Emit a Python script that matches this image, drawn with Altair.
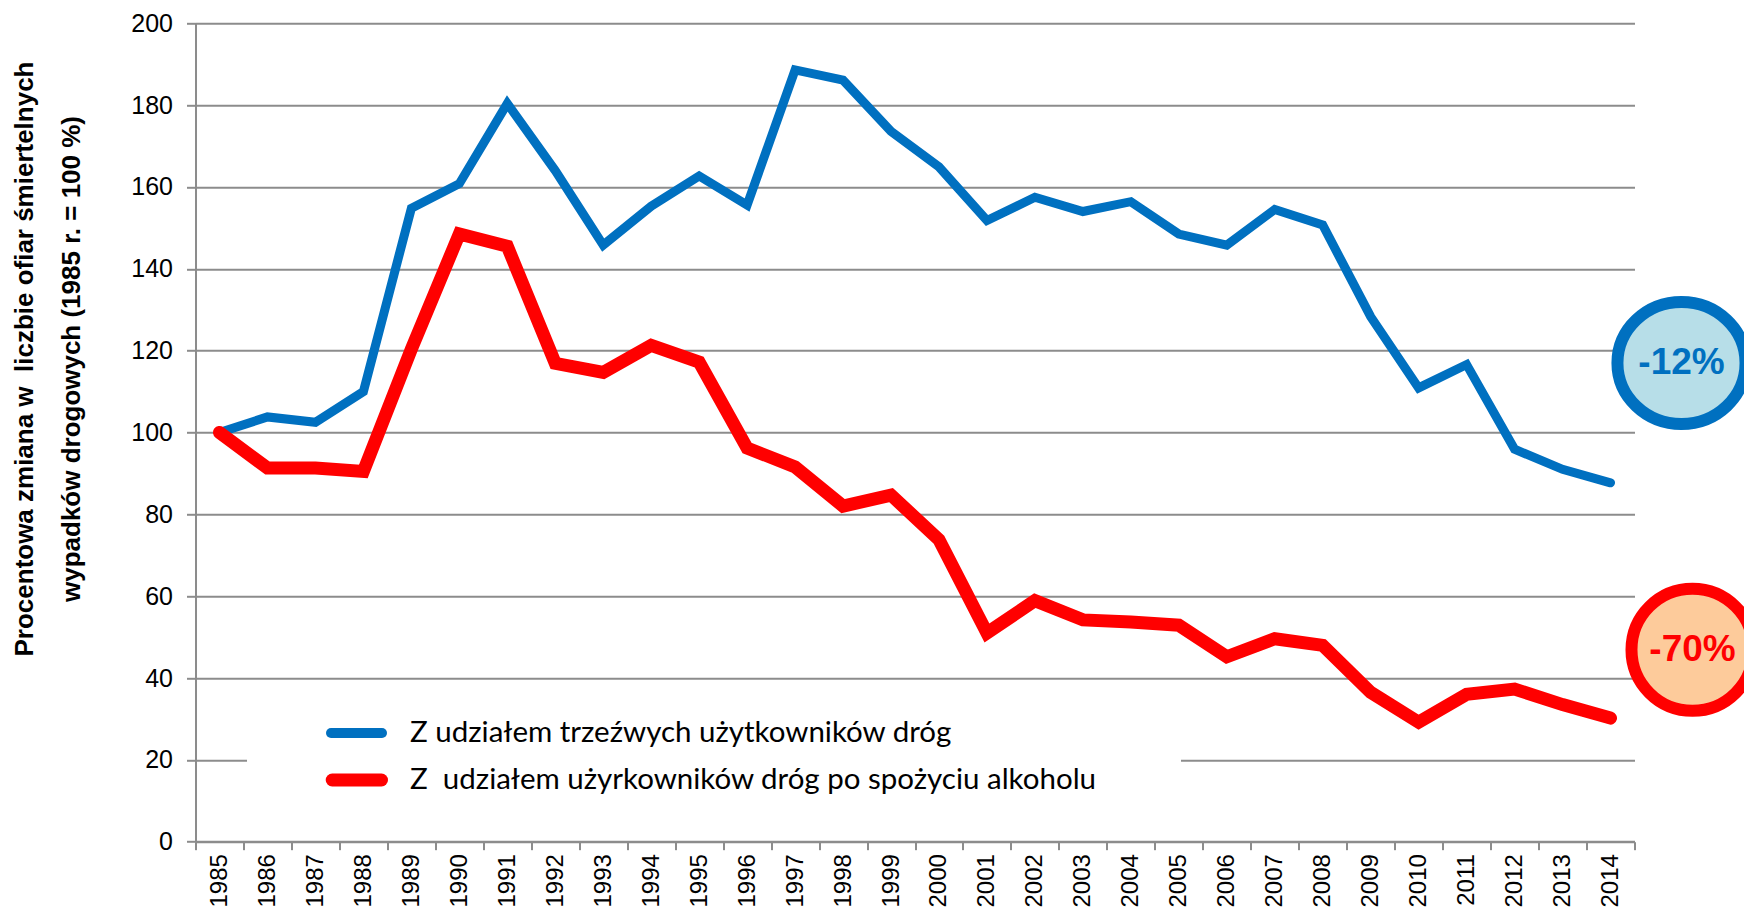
import altair as alt
import pandas as pd

years = list(range(1985, 2015))
sober = [100, 103.8, 102.5, 110, 154.8, 160.8, 180.4, 164, 145.8, 155.3,
         162.7, 155.6, 188.6, 186.1, 173.6, 164.9, 151.8, 157.5, 154, 156.4,
         148.5, 145.8, 154.5, 150.7, 128.3, 110.9, 116.6, 95.9, 91, 87.7]
alcohol = [100, 91.3, 91.3, 90.5, 120.4, 148.5, 145.5, 116.9, 114.7, 121.3,
           117.2, 96.2, 91.6, 82, 84.7, 73.8, 51, 58.9, 54.2, 53.7,
           52.9, 45.2, 49.6, 48, 36.5, 29.2, 36, 37.3, 33.5, 30.2]

s1 = "Z udziałem trzeźwych użytkowników dróg"
s2 = "Z\u00a0 udziałem użyrkowników dróg po spożyciu alkoholu"
series = [s1, s2]
colors = ["#0070C0", "#FF0000"]
widths = [9, 13]

ann_labels = ["-12%", "-70%"]
ann_y = [117, 46.9]
ann_fill = ["#B7DEE8", "#FDCB9B"]
ann_shape = ["M-1.05,0A1.05,1,0,1,0,1.05,0A1.05,1,0,1,0,-1.05,0Z", "circle"]

rows = []
for name, vals in zip(series, [sober, alcohol]):
    for y, v in zip(years, vals):
        rows.append({"year": str(y), "value": v, "series": name})
df = pd.DataFrame(rows)

W, H = 1439, 818.4
grey = "#8C8C8C"

x_enc = alt.X("year:O", bandPosition=0.5,
              scale=alt.Scale(type="band", paddingInner=0, paddingOuter=0),
              axis=alt.Axis(title=None, labelAngle=270, labelAlign="right",
                            labelBaseline="middle", labelFont="Liberation Sans",
                            labelFontSize=24, labelColor="black", labelPadding=4,
                            tickBand="extent", tickSize=8, tickColor=grey,
                            tickWidth=2, domainColor=grey, domainWidth=2,
                            grid=False))
y_enc = alt.Y("value:Q",
              scale=alt.Scale(domain=[0, 200], nice=False),
              axis=alt.Axis(values=list(range(0, 201, 20)),
                            title=["Procentowa zmiana w\u00a0 liczbie ofiar śmiertelnych",
                                   "wypadków drogowych (1985 r. = 100 %)"],
                            titleFont="Liberation Sans", titleFontSize=26,
                            titleFontWeight="bold", titleColor="black",
                            titleAngle=270, titleAlign="center",
                            titleBaseline="alphabetic", titleLineHeight=48,
                            titleX=-163.5, titleY=335.2,
                            labelFont="Liberation Sans", labelFontSize=25,
                            labelColor="black", labelPadding=14,
                            tickSize=9, tickColor=grey, tickWidth=2,
                            domainColor=grey, domainWidth=2,
                            grid=True, gridColor=grey, gridWidth=2))

lines = alt.Chart(df).mark_line(strokeCap="round", strokeJoin="miter").encode(
    x=x_enc,
    y=y_enc,
    color=alt.Color("series:N",
                    scale=alt.Scale(domain=series, range=colors),
                    sort=series, legend=None),
    strokeWidth=alt.StrokeWidth("series:N",
                                scale=alt.Scale(domain=series, range=widths),
                                legend=None),
)

one = alt.Data(values=[{}])

# white box behind the legend (hides the gridline)
blank = alt.Chart(one).mark_rect(color="white").encode(
    x=alt.value(51.5), x2=alt.value(985.5), y=alt.value(690), y2=alt.value(790)
)

layers = [blank, lines]

# legend drawn by hand
leg_rows = [(s1, colors[0], 10, 709.7, 135.5, 186.5),
            (s2, colors[1], 13, 756.7, 136.7, 186.0)]
for name, col, sw, ly, x0, x1 in leg_rows:
    sym = alt.Chart(one).mark_rule(color=col, strokeWidth=sw,
                                   strokeCap="round").encode(
        x=alt.value(x0), x2=alt.value(x1), y=alt.value(ly))
    lab = alt.Chart(one).mark_text(font="Lato", fontSize=29.5, color="black",
                                   align="left", baseline="middle").encode(
        x=alt.value(214.5), y=alt.value(ly), text=alt.value(name))
    layers += [sym, lab]

ann_df = pd.DataFrame({"label": ann_labels, "y": ann_y, "fill": ann_fill,
                       "stroke": colors})

for i, xpix in enumerate([1486, 1497]):
    sub = ann_df.iloc[[i]]
    circ = alt.Chart(sub).mark_point(shape=ann_shape[i], size=14884, strokeWidth=12,
                                     opacity=1, filled=False,
                                     fill=ann_fill[i], fillOpacity=1,
                                     stroke=colors[i]).encode(
        x=alt.value(xpix),
        y=alt.Y("y:Q", scale=alt.Scale(domain=[0, 200], nice=False)),
    )
    txt = alt.Chart(sub).mark_text(font="Liberation Sans", fontSize=37,
                                   fontWeight="bold", color=colors[i],
                                   align="center", baseline="middle").encode(
        x=alt.value(xpix),
        y=alt.Y("y:Q", scale=alt.Scale(domain=[0, 200], nice=False)),
        text="label:N",
    )
    layers += [circ, txt]

chart = alt.layer(*layers).properties(
    width=W, height=H,
    padding={"left": 187.5, "top": 15.3, "right": 109, "bottom": 66},
    autosize=alt.AutoSizeParams(type="none"),
).configure_view(stroke=None).resolve_scale(y="shared")

chart.save("out.html", embed_options={"renderer": "svg", "actions": False})
